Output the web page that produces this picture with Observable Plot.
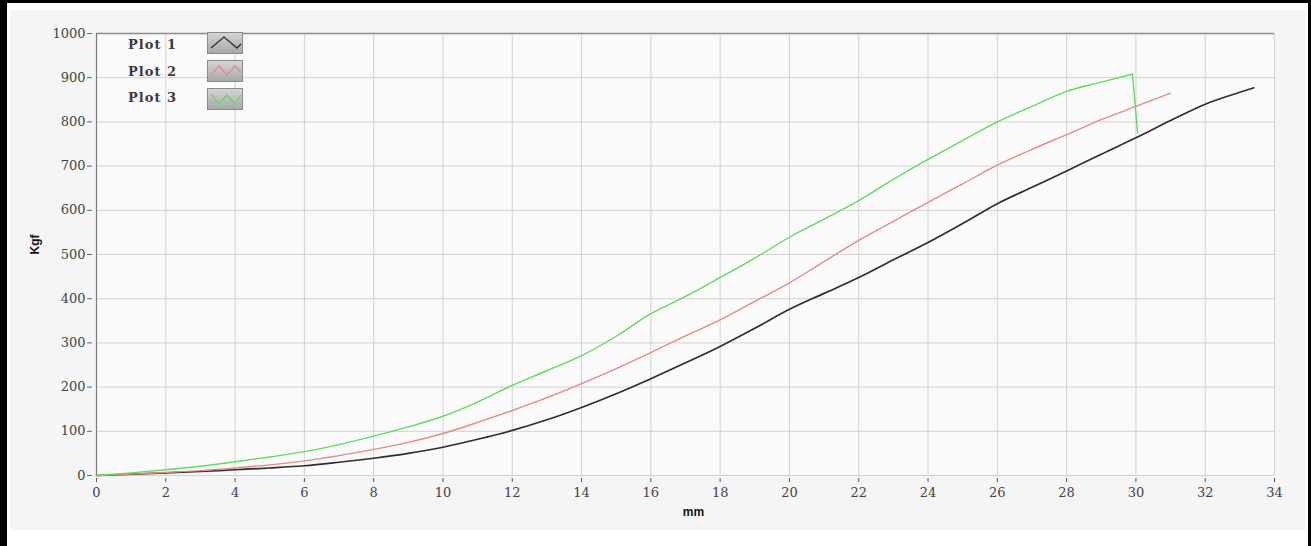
<!DOCTYPE html>
<html><head><meta charset="utf-8">
<script src="https://cdn.jsdelivr.net/npm/d3@7"></script>
<script src="https://cdn.jsdelivr.net/npm/@observablehq/plot@0.6"></script>
<style>
html,body{margin:0;padding:0;background:#fff;}
#page{position:relative;width:1311px;height:546px;overflow:hidden;background:#fff}
#bl{position:absolute;left:0;top:0;width:7px;height:546px;background:#000}
#bt{position:absolute;left:0;top:0;width:1311px;height:3px;background:#000}
#br{position:absolute;left:1308px;top:0;width:3px;height:546px;background:#000}
#panel{position:absolute;left:10px;top:10px;width:1296px;height:520px;background:#f5f5f5}
#panel svg{position:absolute;left:0;top:0}
.lg{position:absolute;font-family:"DejaVu Serif",serif;font-size:13px;font-weight:bold;letter-spacing:1px;color:#3a3a3a;white-space:pre;line-height:16px}
.sw{position:absolute;width:34px;height:20px;border:1px solid #8a8a8a;background:linear-gradient(#d4d4d4,#a8a8a8)}
</style></head>
<body><div id="page"><div id="bl"></div><div id="bt"></div><div id="br"></div><div id="panel"></div></div>
<script>
// Series data (mm -> Kgf)
const names = ["Plot 1", "Plot 2", "Plot 3"];
const colors = ["#2e2e2e", "#e58a8a", "#5fdc5f"];
const x1 = [0,1,2,3,4,5,6,7,8,9,10,11,12,13,14,15,16,17,18,19,20,21,22,23,24,25,26,27,28,29,30,31,32,33,33.4];
const y1 = [0,3,6,9,13,17,22,30,39,50,64,82,102,126,154,185,219,255,292,333,376,412,448,488,527,570,615,652,689,727,764,803,840,867,877];
const x2 = [0,1,2,3,4,5,6,7,8,9,10,11,12,13,14,15,16,17,18,19,20,21,22,23,24,25,26,27,28,29,30,31];
const y2 = [0,3,7,11,17,24,33,45,59,75,95,120,147,176,208,242,278,316,352,394,436,484,532,575,618,660,702,738,771,805,835,865];
const x3 = [0,1,2,3,4,5,6,7,8,9,10,11,12,13,14,15,16,17,18,19,20,21,22,23,24,25,26,27,28,29,29.9,30.05];
const y3 = [0,6,13,21,31,42,54,70,89,110,134,166,204,237,271,315,366,405,448,492,539,580,622,670,715,758,800,835,869,890,908,775];
const xTicks = d3.range(0, 35, 2);
const yTicks = d3.range(0, 1001, 100);

const series = [[x1,y1],[x2,y2],[x3,y3]].map(([xs,ys],i)=>xs.map((x,j)=>({x, y: ys[j], s: names[i]})));
// green: smooth loading part, then the sharp break (last segment straight)
const greenMain = series[2].slice(0, -1);
const greenDrop = series[2].slice(-2);
const font = '"DejaVu Serif", serif';

const chart = Plot.plot({
  width: 1296, height: 520,
  marginLeft: 86, marginRight: 32, marginTop: 23, marginBottom: 55,
  style: {background: "transparent", fontFamily: font, fontSize: "13px", color: "#444"},
  x: {domain: [0, 34]},
  y: {domain: [0, 1000]},
  marks: [
    Plot.frame({fill: "#fafafa", stroke: null}),
    Plot.gridX(xTicks, {stroke: "#d2d2d2", strokeOpacity: 1}),
    Plot.gridY(yTicks, {stroke: "#d2d2d2", strokeOpacity: 1}),
    Plot.ruleX([34], {stroke: "#d2d2d2"}),
    Plot.ruleY([0], {stroke: "#d2d2d2"}),
    Plot.ruleY([1000], {stroke: "#8c8c8c", strokeWidth: 1.5}),
    Plot.ruleX([0], {stroke: "#7a7a7a", strokeWidth: 1.2}),
    Plot.axisX({ticks: xTicks, tickFormat: d=>String(d), tickSize: 4, tickPadding: 5, dy: 3, label: null, stroke: "#555", fill: "#444"}),
    Plot.axisY({ticks: yTicks, tickFormat: d=>String(d), tickSize: 5, tickPadding: 2, dx: -4, label: null, stroke: "#666", fill: "#444"}),
    Plot.line(series[0], {x: "x", y: "y", stroke: colors[0], strokeWidth: 1.7, curve: "monotone-x"}),
    Plot.line(series[1], {x: "x", y: "y", stroke: colors[1], strokeWidth: 1.4, curve: "monotone-x"}),
    Plot.line(greenMain, {x: "x", y: "y", stroke: colors[2], strokeWidth: 1.4, curve: "monotone-x"}),
    Plot.line(greenDrop, {x: "x", y: "y", stroke: colors[2], strokeWidth: 1.4, curve: "linear"}),
    Plot.text(["Kgf"], {frameAnchor: "left", dx: -61, rotate: -90, fontFamily: "Liberation Sans, Arial, sans-serif", fontWeight: "bold", fontSize: 12, fill: "#111", text: d=>d}),
    Plot.text(["mm"], {frameAnchor: "bottom", dx: 8, dy: 40, fontFamily: "Liberation Sans, Arial, sans-serif", fontWeight: "bold", fontSize: 12, fill: "#111", text: d=>d})
  ]
});
const panel = document.getElementById("panel");
panel.appendChild(chart);

// legend
const zig = [
  "3,15 16,4 29,15 33,11",
  "3,14 11,5 19,14 27,5 33,11",
  "3,5 11,15 19,6 27,15 33,6"
];
names.forEach((n,i)=>{
  const t = document.createElement("div");
  t.className = "lg"; t.textContent = n;
  t.style.left = "118px"; t.style.top = (27 + i*26.5) + "px";
  panel.appendChild(t);
  const s = document.createElement("div");
  s.className = "sw"; s.style.left = "197px"; s.style.top = (22 + i*28) + "px";
  s.innerHTML = `<svg width="34" height="20" style="position:absolute;left:0;top:0"><polyline points="${zig[i]}" fill="none" stroke="${colors[i]}" stroke-width="1.3"/></svg>`;
  panel.appendChild(s);
});
</script>
</body></html>
